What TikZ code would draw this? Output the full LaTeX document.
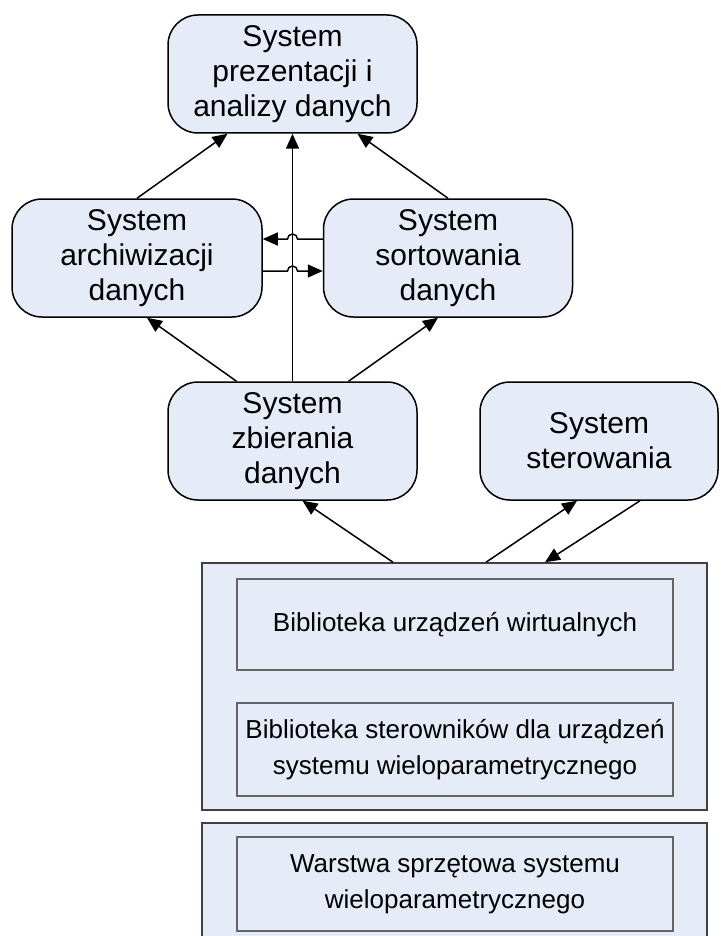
\documentclass[tikz,border=0pt]{standalone}
\usepackage{fontspec}
\setmainfont{Liberation Sans}
\usepackage{tikz}
\usetikzlibrary{
  arrows.meta,
  positioning,
  calc
}
\definecolor{PaleBlue}{RGB}{229,235,247}
\definecolor{EdgeGray}{RGB}{100,100,100}
\tikzset{
  sysbox/.style={
    draw=black,
    fill=PaleBlue,
    rounded corners=30pt,
    line width=1.5pt,
    minimum width=249pt,
    minimum height=118pt,
    align=center,
    inner sep=0pt,
    font=\fontsize{30}{35}\selectfont
  },
  layerbox/.style={draw=black!75,fill=PaleBlue,line width=1.5pt,inner sep=0pt},
  libbox/.style={
    draw=EdgeGray,
    fill=PaleBlue,
    line width=2pt,
    minimum width=436pt,
    align=center,
    inner sep=0pt,
    font=\fontsize{26}{36}\selectfont
  },
  arrow/.style={-{Triangle[length=15pt,width=13pt]},line width=1.5pt,draw=black}
}

\begin{document}
\begin{tikzpicture}[x=1pt,y=1pt]
  \useasboundingbox (0,0) rectangle (720,-936);

  % software systems
  \node[sysbox] (pres) at (292.5,-74) {System\\prezentacji i\\analizy danych};
  \node[sysbox,minimum width=250pt] (arch) at (137,-258) {System\\archiwizacji\\danych};
  \node[sysbox] (sort) at (448,-258) {System\\sortowania\\danych};
  \node[sysbox] (zbier) at (292.5,-441) {System\\zbierania\\danych};
  \node[sysbox,minimum width=238pt] (ster) at (599,-441) {System\\sterowania};

  % layers
  \node[layerbox,minimum width=505pt,minimum height=247pt] (drv) at (454.5,-686.5) {};
  \node[libbox,minimum height=91pt] (virt) at (455,-624.5) {Biblioteka urządzeń wirtualnych};
  \node[libbox,minimum height=93pt] (devs) at (455,-749.5)
    {Biblioteka sterowników dla urządzeń\\systemu wieloparametrycznego};
  \node[layerbox,minimum width=505pt,minimum height=140pt] (hwl) at (454.5,-893) {};
  \node[libbox,minimum height=94pt] (hw) at (455,-884) {Warstwa sprzętowa systemu\\wieloparametrycznego};

  % data flow
  \draw[arrow] (arch.north) -- ([xshift=-65pt]pres.south);
  \draw[arrow] (sort.north) -- ([xshift=65pt]pres.south);
  \draw[arrow] (zbier.north) -- (pres.south);
  \coordinate (jupper) at ([yshift=19pt]sort.west -| pres.south);
  \coordinate (jlower) at ([yshift=-13pt]arch.east -| pres.south);
  \draw[arrow] ([yshift=19pt]sort.west) -- ([xshift=5pt]jupper)
    arc[start angle=0,end angle=180,radius=5pt] -- ([yshift=19pt]arch.east);
  \draw[arrow] ([yshift=-13pt]arch.east) -- ([xshift=-5pt]jlower)
    arc[start angle=180,end angle=0,radius=5pt] -- ([yshift=-13pt]sort.west);
  \draw[arrow] ([xshift=-56pt]zbier.north) -- ([xshift=10pt]arch.south);
  \draw[arrow] ([xshift=56pt]zbier.north) -- ([xshift=-10pt]sort.south);
  \draw[arrow] ([xshift=-61.5pt]drv.north) -- ([xshift=10pt]zbier.south);
  \draw[arrow] ([xshift=31.5pt]drv.north) -- ([xshift=-22pt]ster.south);
  \draw[arrow] ([xshift=41pt]ster.south) -- ([xshift=90.5pt]drv.north);
\end{tikzpicture}
\end{document}
